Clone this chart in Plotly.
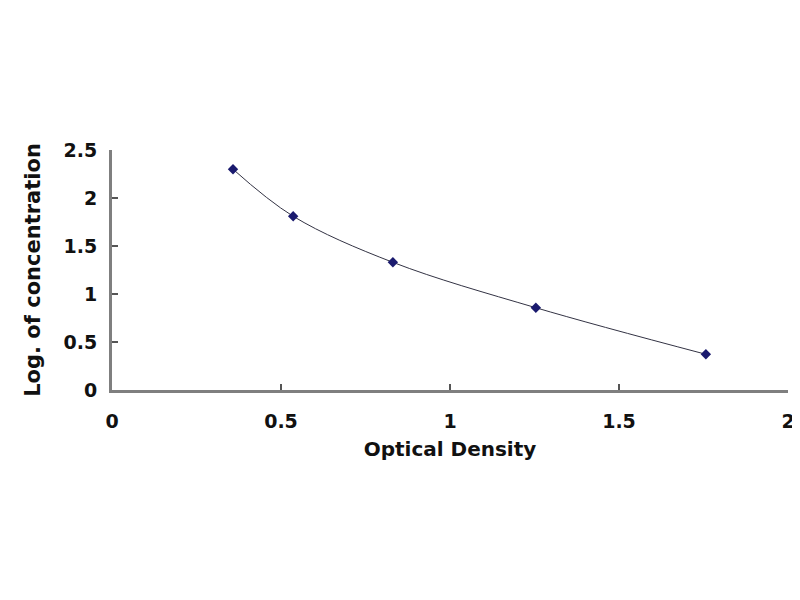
import plotly.graph_objects as go

optical_density = [0.358, 0.536, 0.831, 1.254, 1.757]
log_concentration = [2.30, 1.81, 1.33, 0.857, 0.372]

x_ticks = [0, 0.5, 1, 1.5, 2]
x_tick_labels = ["0", "0.5", "1", "1.5", "2"]
y_ticks = [0, 0.5, 1, 1.5, 2, 2.5]
y_tick_labels = ["0", "0.5", "1", "1.5", "2", "2.5"]

font_family = "DejaVu Sans, Verdana, sans-serif"

fig = go.Figure()
fig.add_trace(go.Scatter(
    x=optical_density, y=log_concentration,
    mode="lines+markers",
    line=dict(shape="spline", smoothing=1.0, color="#333344", width=1),
    marker=dict(symbol="diamond", size=8, color="#1a1a6e"),
    showlegend=False,
))

axis_common = dict(
    showgrid=False, zeroline=False, showline=True, linecolor="#7f7f7f", linewidth=3,
    ticks="inside", ticklen=6, tickwidth=1.5, tickcolor="#555555",
    automargin=False,
    tickfont=dict(family=font_family, size=19, color="#111111", weight="bold"),
)

# The page body has an 8px margin, so the figure is sized/margined to compensate.
fig.update_layout(
    width=792, height=592,
    margin=dict(l=104, r=12, t=142, b=210),
    paper_bgcolor="white", plot_bgcolor="white",
    xaxis=dict(range=[0, 2], tickvals=x_ticks, ticktext=x_tick_labels,
               ticklabelstandoff=12,
               title=dict(text="<b>Optical Density</b>", font=dict(family=font_family, size=20, color="#111111"), standoff=12),
               **axis_common),
    yaxis=dict(range=[0, 2.5], tickvals=y_ticks, ticktext=y_tick_labels,
               ticklabelstandoff=8,
               title=dict(text="<b>Log. of concentration</b>", font=dict(family=font_family, size=21, color="#111111"), standoff=18),
               **axis_common),
)

fig.write_html("out.html")
